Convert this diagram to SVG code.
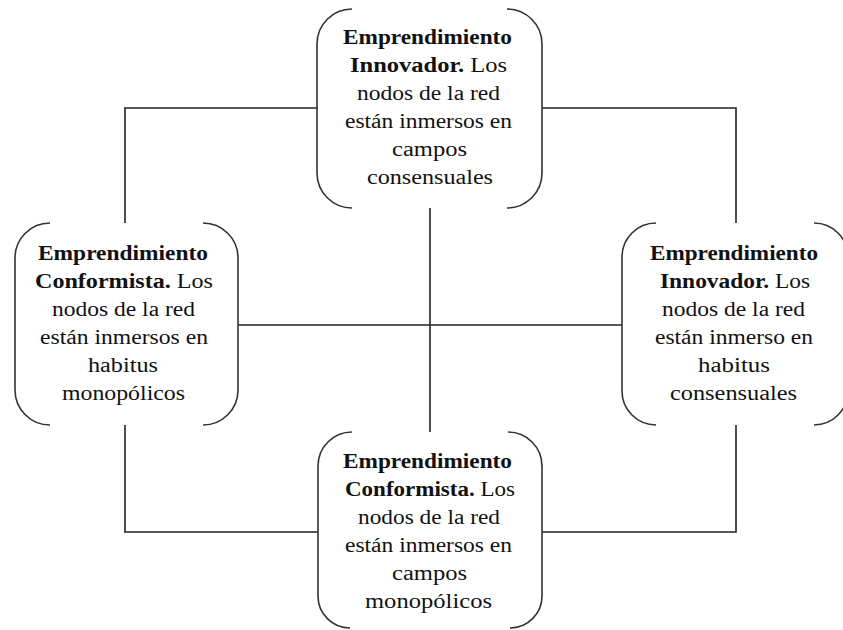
<svg xmlns="http://www.w3.org/2000/svg" width="843" height="630" viewBox="0 0 843 630">
<style>
.br{fill:none;stroke:#333;stroke-width:1.6}
.cn{fill:none;stroke:#222;stroke-width:1.6}
text{font-family:"Liberation Serif","Times New Roman",serif;font-size:20px;fill:#111;text-anchor:middle}
.b{font-weight:bold}
</style>
<rect width="843" height="630" fill="#fff"/>
<g id="connectors">
<polyline class="cn" points="318,108 125,108 125,223"/>
<polyline class="cn" points="542,108 736,108 736,223"/>
<polyline class="cn" points="125,425 125,532 318,532"/>
<polyline class="cn" points="736,425 736,532 542,532"/>
<line class="cn" x1="430" y1="208" x2="430" y2="432"/>
<line class="cn" x1="238" y1="325" x2="622" y2="325"/>
</g>
<g id="node-top">
<path class="br" d="M352 9 A35 35 0 0 0 317 44 V173 A35 35 0 0 0 352 208"/>
<path class="br" d="M507 9 A35 35 0 0 1 542 44 V173 A35 35 0 0 1 507 208"/>
<text x="427.5" y="44" class="b" textLength="169" lengthAdjust="spacingAndGlyphs">Emprendimiento</text>
<text x="428.5" y="72" textLength="157" lengthAdjust="spacingAndGlyphs"><tspan class="b">Innovador.</tspan> Los</text>
<text x="428.5" y="100" textLength="143" lengthAdjust="spacingAndGlyphs">nodos de la red</text>
<text x="428.5" y="128" textLength="167" lengthAdjust="spacingAndGlyphs">están inmersos en</text>
<text x="429.5" y="156" textLength="75" lengthAdjust="spacingAndGlyphs">campos</text>
<text x="430" y="184" textLength="126" lengthAdjust="spacingAndGlyphs">consensuales</text>
</g>
<g id="node-left">
<path class="br" d="M50 223 A35 35 0 0 0 15 258 V390 A35 35 0 0 0 50 425"/>
<path class="br" d="M203 223 A35 35 0 0 1 238 258 V390 A35 35 0 0 1 203 425"/>
<text x="123" y="260" class="b" textLength="170" lengthAdjust="spacingAndGlyphs">Emprendimiento</text>
<text x="124" y="288" textLength="178" lengthAdjust="spacingAndGlyphs"><tspan class="b">Conformista.</tspan> Los</text>
<text x="123.5" y="316" textLength="143" lengthAdjust="spacingAndGlyphs">nodos de la red</text>
<text x="124" y="344" textLength="168" lengthAdjust="spacingAndGlyphs">están inmersos en</text>
<text x="123" y="372" textLength="70" lengthAdjust="spacingAndGlyphs">habitus</text>
<text x="123.5" y="400" textLength="123" lengthAdjust="spacingAndGlyphs">monopólicos</text>
</g>
<g id="node-right">
<path class="br" d="M656 223 A34 34 0 0 0 622 257 V391 A34 34 0 0 0 656 425"/>
<path class="br" d="M814 223 A34 34 0 0 1 848 257 V391 A34 34 0 0 1 814 425"/>
<text x="734" y="260" class="b" textLength="168" lengthAdjust="spacingAndGlyphs">Emprendimiento</text>
<text x="735" y="288" textLength="150" lengthAdjust="spacingAndGlyphs"><tspan class="b">Innovador.</tspan> Los</text>
<text x="733.5" y="316" textLength="143" lengthAdjust="spacingAndGlyphs">nodos de la red</text>
<text x="734" y="344" textLength="158" lengthAdjust="spacingAndGlyphs">están inmerso en</text>
<text x="734" y="372" textLength="72" lengthAdjust="spacingAndGlyphs">habitus</text>
<text x="733.5" y="400" textLength="127" lengthAdjust="spacingAndGlyphs">consensuales</text>
</g>
<g id="node-bottom">
<path class="br" d="M352 432 A34 34 0 0 0 318 466 V596 A32 32 0 0 0 350 628"/>
<path class="br" d="M508 432 A34 34 0 0 1 542 466 V596 A32 32 0 0 1 510 628"/>
<text x="427.5" y="468" class="b" textLength="169" lengthAdjust="spacingAndGlyphs">Emprendimiento</text>
<text x="430" y="496" textLength="170" lengthAdjust="spacingAndGlyphs"><tspan class="b">Conformista.</tspan> Los</text>
<text x="429" y="524" textLength="142" lengthAdjust="spacingAndGlyphs">nodos de la red</text>
<text x="428.5" y="552" textLength="167" lengthAdjust="spacingAndGlyphs">están inmersos en</text>
<text x="429.5" y="580" textLength="75" lengthAdjust="spacingAndGlyphs">campos</text>
<text x="428.5" y="608" textLength="127" lengthAdjust="spacingAndGlyphs">monopólicos</text>
</g>
</svg>
